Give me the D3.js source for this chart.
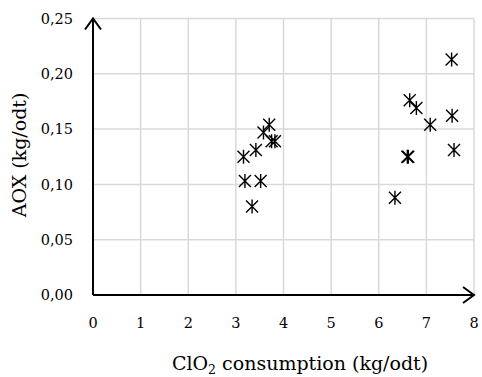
<!DOCTYPE html>
<html>
<head>
<meta charset="utf-8">
<script src="https://cdn.jsdelivr.net/npm/d3@7"></script>
<style>
  html, body { margin: 0; padding: 0; background: #fff; }
</style>
</head>
<body>
<svg></svg>
<script>
// ClO2 consumption (kg/odt)
const clo2 = [3.16, 3.19, 3.52, 3.34, 3.42, 3.58, 3.70, 3.75, 3.82,
    6.34, 6.60, 6.62, 6.65, 6.79, 7.08, 7.53, 7.54, 7.58]
// AOX (kg/odt)
const aox = [0.125, 0.103, 0.103, 0.080, 0.131, 0.147, 0.154, 0.139, 0.139,
    0.088, 0.125, 0.125, 0.176, 0.169, 0.154, 0.213, 0.162, 0.131]
const xTicks = [0, 1, 2, 3, 4, 5, 6, 7, 8]
const yTicks = [0, 0.05, 0.1, 0.15, 0.2, 0.25]

const width = 482,
    height = 377
const margin = { top: 18.5, right: 8, bottom: 82, left: 93 }
const serif = "'DejaVu Serif', 'Liberation Serif', serif"

const svg = d3.select('svg')
    .attr('width', width)
    .attr('height', height)
    .attr('font-family', serif)
    .style('display', 'block')

const x = d3.scaleLinear().domain([0, 8]).range([margin.left, width - margin.right])
const y = d3.scaleLinear().domain([0, 0.25]).range([height - margin.bottom, margin.top])

const fmt = (v) => d3.format('.2f')(v).replace('.', ',')

// grid
const grid = svg.append('g').attr('stroke', '#d9d9d9').attr('stroke-width', 1.5)
grid.selectAll('.gx')
    .data(xTicks.slice(1))
    .join('line')
    .attr('x1', (d) => x(d))
    .attr('x2', (d) => x(d))
    .attr('y1', y(0))
    .attr('y2', y(0.25))
grid.selectAll('.gy')
    .data(yTicks.slice(1))
    .join('line')
    .attr('x1', x(0))
    .attr('x2', x(8))
    .attr('y1', (d) => y(d))
    .attr('y2', (d) => y(d))

// axes with arrows
const ax = svg.append('g').attr('stroke', '#000').attr('stroke-width', 2).attr('fill', 'none')
ax.append('line').attr('x1', x(0)).attr('x2', x(8)).attr('y1', y(0)).attr('y2', y(0))
ax.append('line').attr('x1', x(0)).attr('x2', x(0)).attr('y1', y(0)).attr('y2', y(0.25))
ax.append('path').attr('d', `M${x(8) - 11},${y(0) - 8}L${x(8)},${y(0)}L${x(8) - 11},${y(0) + 8}`)
ax.append('path').attr('d', `M${x(0) - 8},${y(0.25) + 11}L${x(0)},${y(0.25)}L${x(0) + 8},${y(0.25) + 11}`)

// tick labels
svg.append('g')
    .selectAll('text')
    .data(xTicks)
    .join('text')
    .attr('x', (d) => x(d))
    .attr('y', 328)
    .attr('text-anchor', 'middle')
    .attr('font-family', serif)
    .attr('font-size', 14.5)
    .attr('fill', '#000')
    .text((d) => d)

svg.append('g')
    .selectAll('text')
    .data(yTicks)
    .join('text')
    .attr('x', 73)
    .attr('y', (d) => y(d))
    .attr('dy', '0.36em')
    .attr('text-anchor', 'end')
    .attr('font-family', serif)
    .attr('font-size', 14.5)
    .attr('fill', '#000')
    .text(fmt)

// axis titles
const xt = svg.append('text')
    .attr('x', 300)
    .attr('y', 370)
    .attr('text-anchor', 'middle')
    .attr('font-family', serif)
    .attr('font-size', 19)
    .attr('fill', '#000')
xt.append('tspan').text('ClO')
xt.append('tspan').attr('font-size', 12.5).attr('dy', 4).text('2')
xt.append('tspan').attr('dy', -4).text(' consumption (kg/odt)')

svg.append('text')
    .attr('transform', `translate(26,155) rotate(-90)`)
    .attr('text-anchor', 'middle')
    .attr('font-family', serif)
    .attr('font-size', 19)
    .attr('fill', '#000')
    .text('AOX (kg/odt)')

// star markers
const s = 6
const pts = clo2.map((c, i) => [c, aox[i]])
svg.append('g')
    .attr('stroke', '#000')
    .attr('stroke-width', 1.4)
    .attr('fill', 'none')
    .selectAll('path')
    .data(pts)
    .join('path')
    .attr('transform', (d) => `translate(${x(d[0])},${y(d[1])})`)
    .attr('d', `M${-s},${-s}L${s},${s}M${-s},${s}L${s},${-s}M0,${-s - 1}L0,${s + 1}`)
</script>
</body>
</html>
